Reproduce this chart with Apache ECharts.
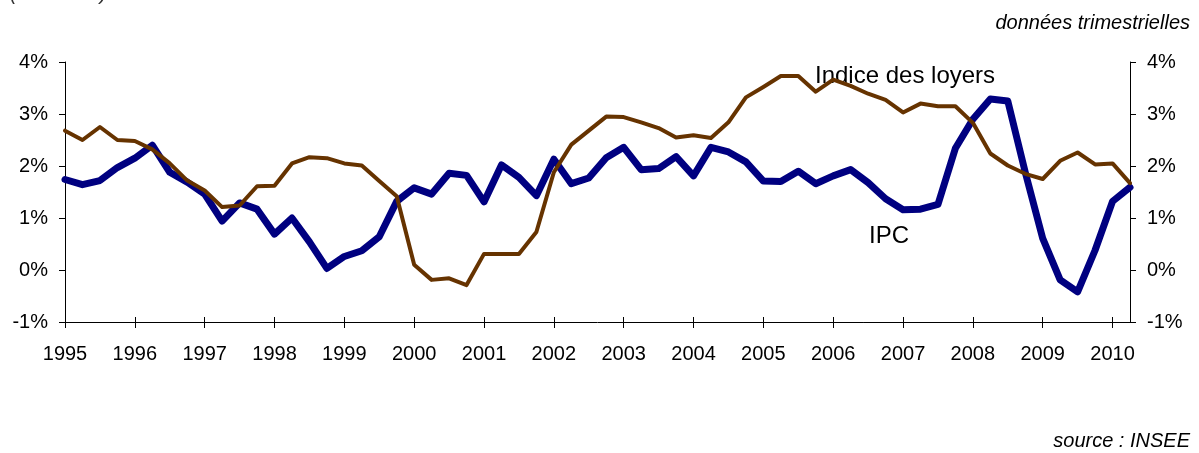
<!DOCTYPE html>
<html>
<head>
<meta charset="utf-8">
<script src="https://cdn.jsdelivr.net/npm/echarts@6/dist/echarts.min.js"></script>
<style>
html,body{margin:0;padding:0;background:#fff;}
#chart{width:1199px;height:453px;}
</style>
</head>
<body>
<div id="chart"></div>
<script>
var years = [1995,1996,1997,1998,1999,2000,2001,2002,2003,2004,2005,2006,2007,2008,2009,2010];
var quarters = [];
for (var yi = 0; yi < years.length; yi++) {
  for (var q = 1; q <= 4; q++) quarters.push(years[yi] + 'T' + q);
}
quarters = quarters.slice(0, 62);

var ipc = [1.74,1.64,1.72,1.97,2.15,2.40,1.88,1.69,1.46,0.94,1.29,1.17,0.69,1.00,0.54,0.03,
           0.26,0.37,0.64,1.32,1.58,1.46,1.86,1.82,1.31,2.02,1.78,1.43,2.13,1.66,1.77,
           2.16,2.36,1.93,1.95,2.18,1.81,2.36,2.27,2.08,1.71,1.70,1.90,1.66,1.81,1.93,1.68,
           1.37,1.16,1.17,1.26,2.34,2.90,3.29,3.25,1.88,0.61,-0.19,-0.42,0.38,1.32,1.59];
var loyers = [2.68,2.50,2.75,2.50,2.48,2.32,2.05,1.72,1.53,1.21,1.24,1.61,1.62,2.05,2.17,2.15,
              2.05,2.01,1.71,1.42,0.10,-0.19,-0.16,-0.29,0.31,0.31,0.31,0.73,1.88,2.41,2.68,
              2.95,2.94,2.84,2.73,2.55,2.59,2.54,2.84,3.32,3.52,3.73,3.73,3.43,3.66,3.54,3.39,
              3.27,3.03,3.20,3.15,3.15,2.83,2.24,2.01,1.85,1.75,2.10,2.26,2.03,2.05,1.67];
var yMin = -1, yMax = 4, yStep = 1;

var FONT = '"Liberation Sans", Arial, sans-serif';
var chart = echarts.init(document.getElementById('chart'), null, {renderer: 'canvas'});
function isQ1(i) { return i % 4 === 0; }
var axisColor = '#000';
function yAxisDef(pos) {
  return {
    type: 'value', position: pos, min: yMin, max: yMax, interval: yStep,
    axisLine: {show: true, onZero: false, lineStyle: {color: axisColor, width: 1}},
    axisTick: {show: true, length: 6, lineStyle: {color: axisColor}},
    splitLine: {show: false},
    axisLabel: {formatter: '{value}%', fontSize: 20, color: '#000', fontFamily: FONT, margin: 17}
  };
}
chart.setOption({
  animation: false,
  backgroundColor: '#fff',
  grid: {left: 65, right: 69, top: 62, bottom: 131, containLabel: false},
  xAxis: [{
    type: 'category', data: quarters, boundaryGap: false, position: 'bottom', offset: 0,
    axisLine: {show: true, onZero: false, lineStyle: {color: axisColor, width: 1}},
    axisTick: {show: true, length: 6, interval: function (i) { return isQ1(i); }, lineStyle: {color: axisColor}},
    axisLabel: {interval: function (i) { return isQ1(i); }, formatter: function (v) { return v.slice(0, 4); },
      fontSize: 20, color: '#000', fontFamily: FONT, margin: 22},
    splitLine: {show: false}
  }, {
    type: 'category', data: quarters, boundaryGap: false, position: 'bottom', offset: 0,
    axisLine: {show: false, onZero: false},
    axisTick: {show: true, inside: true, length: 5, interval: function (i) { return isQ1(i); }, lineStyle: {color: axisColor}},
    axisLabel: {show: false},
    splitLine: {show: false}
  }],
  yAxis: [yAxisDef('left'), yAxisDef('right')],
  series: [{
    name: 'IPC', type: 'line', data: ipc, xAxisIndex: 0, yAxisIndex: 0,
    showSymbol: false, symbol: 'none',
    lineStyle: {color: '#000080', width: 7, join: 'round', cap: 'round'}
  }, {
    name: 'Indice des loyers', type: 'line', data: loyers, xAxisIndex: 0, yAxisIndex: 0,
    showSymbol: false, symbol: 'none',
    lineStyle: {color: '#663300', width: 4, join: 'round', cap: 'round'}
  }],
  graphic: [
    {type: 'text', left: 10, top: -16, style: {text: '(sur un an)', font: 'italic 20px ' + FONT, fill: '#333'}},
    {type: 'text', x: 1190, y: 23, style: {text: 'données trimestrielles', font: 'italic 20px ' + FONT, fill: '#000', align: 'right', verticalAlign: 'middle'}},
    {type: 'text', x: 1190, y: 441, style: {text: 'source : INSEE', font: 'italic 20px ' + FONT, fill: '#000', align: 'right', verticalAlign: 'middle'}},
    {type: 'text', x: 815, y: 76, style: {text: 'Indice des loyers', font: '24px ' + FONT, fill: '#000', align: 'left', verticalAlign: 'middle'}},
    {type: 'text', x: 869, y: 236, style: {text: 'IPC', font: '24px ' + FONT, fill: '#000', align: 'left', verticalAlign: 'middle'}}
  ]
});
</script>
</body>
</html>
